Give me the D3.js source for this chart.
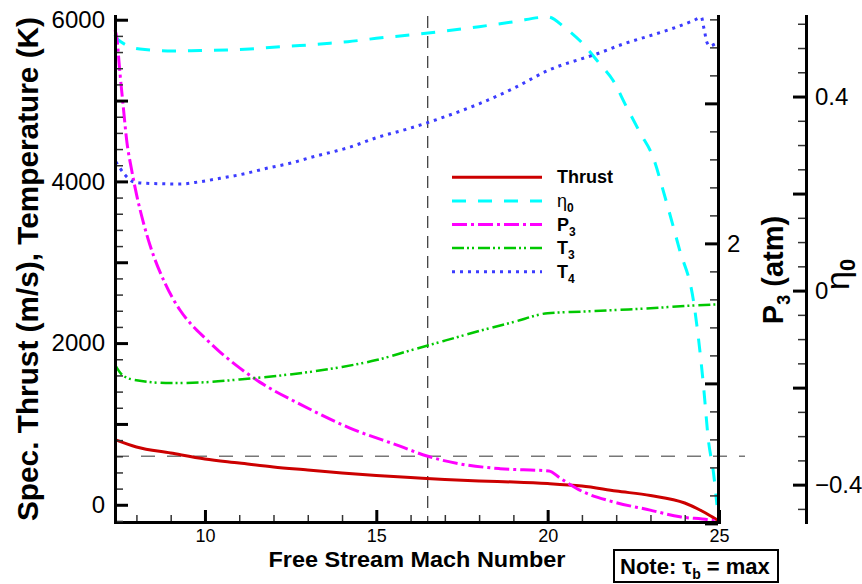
<!DOCTYPE html>
<html>
<head>
<meta charset="utf-8" />
<title>thrust, efficiency, P3 and temperatures vs mach</title>
<style>
html, body {
	margin:0;
	padding:0;
	background:#ffffff;
}
svg {
	display:block;
	font-family: 'Liberation Sans', Arial, Helvetica, sans-serif;
}
.axis path.domain { stroke:#000; stroke-width:3; stroke-linecap:square; }
.axis .tick line { stroke:#000; stroke-width:3; }
.axis text { fill:#000; font-family: 'Liberation Sans', Arial, Helvetica, sans-serif; }
.minor path.domain { display:none; }
.minor .tick line { stroke:#333; stroke-width:1.5; }
</style>
</head>
<body>

<script src="https://cdn.jsdelivr.net/npm/d3@7/dist/d3.min.js"></script>
<script>

//=======================================
// data
//=======================================

// thrust (m/s), left axis
const thrustMach = [7.376, 8, 9, 10, 11, 12, 13, 14, 15, 16, 17, 18, 19, 20, 21, 22, 23, 24, 24.5, 24.8, 25];
const thrustVal  = [806, 715, 640, 566, 517, 467, 430, 393, 362, 338, 313, 294, 282, 263, 231, 170, 115, 22, -77, -150, -200];

// eta0, far right axis
const etaMach = [7.376, 7.42, 8.10, 9.07, 9.85, 10.63, 11.31, 12.09, 12.77, 13.65, 14.17, 15, 16, 17, 18, 19, 20,
                 20.5, 21, 21.5, 21.9, 22.3, 22.7, 23.07, 23.42, 23.85, 24.25, 24.55, 24.69, 24.84, 24.94];
const etaVal  = [0.527, 0.520, 0.498, 0.494, 0.495, 0.496, 0.498, 0.502, 0.505, 0.510, 0.513, 0.520, 0.527, 0.535, 0.544, 0.554, 0.564,
                 0.542, 0.511, 0.469, 0.434, 0.379, 0.325, 0.276, 0.194, 0.084, -0.019, -0.198, -0.308, -0.376, -0.442];

// P3 (atm), inner right axis
const p3Mach = [7.374, 7.423, 7.52, 7.616, 7.715, 7.861, 8.007, 8.2, 8.395, 8.833, 9.27, 9.62, 10, 10.44, 11.02, 11.6,
                12.77, 14.23, 15.69, 16.48, 17.44, 18.61, 20.04, 20.36, 21.03, 21.91, 22.99, 23.86, 24.74, 25];
const p3Val  = [3.524, 3.476, 3.216, 2.976, 2.738, 2.524, 2.345, 2.152, 1.988, 1.716, 1.524, 1.416, 1.324, 1.224, 1.109, 1.009,
                0.852, 0.681, 0.552, 0.481, 0.425, 0.391, 0.374, 0.324, 0.226, 0.154, 0.095, 0.047, 0.024, 0.011];

// T3 (K), left axis
const t3Mach = [7.376, 7.6, 8, 9, 10, 11, 12, 13, 14, 15, 16, 16.5, 17, 18, 19, 20, 21, 22, 23, 24, 25];
const t3Val  = [1730, 1600, 1540, 1505, 1515, 1550, 1590, 1640, 1705, 1790, 1910, 1970, 2030, 2150, 2260, 2370, 2390, 2410, 2430, 2460, 2480];

// T4 (K), left axis
const t4Mach = [7.40, 7.67, 7.91, 8.30, 9.27, 9.85, 10.44, 11.12, 11.80, 12.48, 13.16, 13.74, 14.18, 15, 16, 17, 18, 19, 20,
                21.53, 22.2, 22.89, 23.57, 24.25, 24.49, 24.54, 24.59, 24.64, 24.74, 24.93, 25];
const t4Val  = [4244, 4079, 3996, 3976, 3968, 3996, 4038, 4092, 4162, 4224, 4305, 4367, 4417, 4540, 4660, 4800, 4960, 5150, 5370,
                5592, 5699, 5790, 5881, 5988, 6030, 5934, 5832, 5728, 5675, 5708, 5712];

// reference point marked by the dashed lines
const refMach = 16.5;
const refP3 = 0.48;

// ticks
const xMajor = [10, 15, 20, 25];
const xMinor = [8, 9, 11, 12, 13, 14, 16, 17, 18, 19, 21, 22, 23, 24];
const leftMajor = [0, 1000, 2000, 3000, 4000, 5000, 6000];
const leftLabels = [0, 2000, 4000, 6000];
const leftMinor = d3.range(-200, 6001, 200).filter(d => d % 1000 !== 0);
const p3Major = [0, 1, 2, 3];
const p3Labels = [2];
const p3Minor = d3.range(0.2, 3.61, 0.2).filter(d => Math.abs(d - Math.round(d)) > 0.01);
const etaMajor = [-0.4, -0.2, 0, 0.2, 0.4];
const etaLabels = [-0.4, 0, 0.4];
const etaMinor = d3.range(-0.45, 0.56, 0.05).filter(d => Math.abs(d * 5 - Math.round(d * 5)) > 0.01);

// legend
const legendKeys = ['thrust', 'eta', 'p3', 't3', 't4'];
const legendText = {
	thrust: ['Thrust', null, 'bold'],
	eta:    ['\u03b7', '0', 'normal'],
	p3:     ['P', '3', 'bold'],
	t3:     ['T', '3', 'bold'],
	t4:     ['T', '4', 'bold'],
};


//=======================================
// chart
//=======================================

const W = 862, H = 584;
const plotTop = 16, plotBottom = 522, plotLeft = 115, plotRight = 719, etaX = 806;

const x    = d3.scaleLinear().domain([7.375, 25]).range([plotLeft, plotRight]);
const yL   = d3.scaleLinear().domain([-213, 6046]).range([plotBottom, plotTop]);
const yP3  = d3.scaleLinear().domain([0.01, 3.624]).range([plotBottom, plotTop]);
const yEta = d3.scaleLinear().domain([-0.477, 0.566]).range([plotBottom, plotTop]);

const styles = {
	thrust: { stroke:'#cc0000', 'stroke-width':3,   dash:null },
	eta:    { stroke:'#00ffff', 'stroke-width':3,   dash:'14 12' },
	p3:     { stroke:'#ff00ff', 'stroke-width':3,   dash:'15 4 3 4' },
	t3:     { stroke:'#00c800', 'stroke-width':2.5, dash:'12 3 2 3 2 4' },
	t4:     { stroke:'#3c3cff', 'stroke-width':3,   dash:'3 5' },
};

const series = [
	{ key:'thrust', pts:d3.zip(thrustMach, thrustVal), y:yL },
	{ key:'eta',    pts:d3.zip(etaMach, etaVal),       y:yEta },
	{ key:'p3',     pts:d3.zip(p3Mach, p3Val),         y:yP3 },
	{ key:'t3',     pts:d3.zip(t3Mach, t3Val),         y:yL },
	{ key:'t4',     pts:d3.zip(t4Mach, t4Val),         y:yL },
];

const svg = d3.select('body').append('svg')
	.attr('width', W).attr('height', H)
	.attr('viewBox', [0, 0, W, H].join(' '));

svg.append('rect').attr('width', W).attr('height', H).attr('fill', '#fff');


//=====================
// reference dashed lines
//=====================
svg.append('line')
	.attr('x1', x(refMach)).attr('x2', x(refMach))
	.attr('y1', plotTop).attr('y2', plotBottom)
	.attr('stroke', '#333').attr('stroke-width', 1.2)
	.attr('stroke-dasharray', '12 8');

svg.append('line')
	.attr('x1', plotLeft).attr('x2', 745)
	.attr('y1', yP3(refP3)).attr('y2', yP3(refP3))
	.attr('stroke', '#777').attr('stroke-width', 1.5)
	.attr('stroke-dasharray', '14 12');


//=====================
// curves
//=====================
svg.append('g').attr('class', 'curves')
	.selectAll('path').data(series)
	.join('path')
		.attr('d', s => d3.line().curve(d3.curveMonotoneX).x(d => x(d[0])).y(d => s.y(d[1]))(s.pts))
		.attr('fill', 'none')
		.attr('stroke', s => styles[s.key].stroke)
		.attr('stroke-width', s => styles[s.key]['stroke-width'])
		.attr('stroke-dasharray', s => styles[s.key].dash)
		.attr('stroke-linejoin', 'round');


//=====================
// axes
//=====================
function minor(sel, axis, vals, size) {
	sel.append('g').attr('class', 'minor')
		.call(axis.tickValues(vals).tickSizeInner(size).tickSizeOuter(0).tickFormat(''));
}

// bottom
svg.append('g').attr('transform', 'translate(0,' + plotBottom + ')')
	.call(sel => {
		minor(sel, d3.axisBottom(x), xMinor, -7);
		sel.append('g').attr('class', 'axis')
			.call(d3.axisBottom(x).tickValues(xMajor).tickSizeInner(-12).tickSizeOuter(0).tickPadding(7).tickFormat(d => d))
			.call(g => g.selectAll('text').style('font-size', '18px'));
	});

// left
svg.append('g').attr('transform', 'translate(' + plotLeft + ',0)')
	.call(sel => {
		minor(sel, d3.axisLeft(yL), leftMinor, -8);
		sel.append('g').attr('class', 'axis')
			.call(d3.axisLeft(yL).tickValues(leftMajor).tickSizeInner(-13).tickSizeOuter(0).tickPadding(10)
				.tickFormat(d => leftLabels.includes(d) ? d : ''))
			.call(g => g.selectAll('text').style('font-size', '24px'));
	});

// P3
svg.append('g').attr('transform', 'translate(' + (plotRight - 1) + ',0)')
	.call(sel => {
		minor(sel, d3.axisRight(yP3), p3Minor, -8);
		sel.append('g').attr('class', 'axis')
			.call(d3.axisRight(yP3).tickValues(p3Major).tickSizeInner(-13).tickSizeOuter(0).tickPadding(9)
				.tickFormat(d => p3Labels.includes(d) ? d : ''))
			.call(g => g.selectAll('text').style('font-size', '24px'));
	});

// eta0
svg.append('g').attr('transform', 'translate(' + etaX + ',0)')
	.call(sel => {
		minor(sel, d3.axisRight(yEta), etaMinor, -8);
		sel.append('g').attr('class', 'axis')
			.call(d3.axisRight(yEta).tickValues(etaMajor).tickSizeInner(-13).tickSizeOuter(0).tickPadding(9)
				.tickFormat(d => etaLabels.includes(d) ? (d === 0 ? '0' : d3.format('.1f')(d)) : ''))
			.call(g => g.selectAll('text').style('font-size', '24px'));
	});


//=====================
// titles
//=====================
svg.append('text')
	.attr('transform', 'translate(38,269) rotate(-90)')
	.attr('text-anchor', 'middle')
	.attr('font-size', 29).attr('font-weight', 'bold')
	.attr('textLength', 504).attr('lengthAdjust', 'spacingAndGlyphs')
	.text('Spec. Thrust (m/s), Temperature (K)');

svg.append('text')
	.attr('x', 417).attr('y', 567)
	.attr('text-anchor', 'middle')
	.attr('font-size', 22).attr('font-weight', 'bold')
	.attr('textLength', 297).attr('lengthAdjust', 'spacingAndGlyphs')
	.text('Free Stream Mach Number');

svg.append('text')
	.attr('transform', 'translate(783,270) rotate(-90)')
	.attr('text-anchor', 'middle')
	.attr('font-size', 29).attr('font-weight', 'bold')
	.call(t => {
		t.append('tspan').text('P');
		t.append('tspan').attr('font-size', 18).attr('dy', 7).text('3');
		t.append('tspan').attr('dy', -7).text(' (atm)');
	});

svg.append('text')
	.attr('transform', 'translate(849,290) rotate(-90)')
	.attr('font-size', 34)
	.call(t => {
		t.append('tspan').text('\u03b7');
		t.append('tspan').attr('font-size', 22).attr('font-weight', 'bold').attr('dy', 6).text('0');
	});


//=====================
// legend
//=====================
const legendY = d3.scalePoint().domain(legendKeys).range([177.3, 271.7]);

svg.append('g').attr('class', 'legend')
	.selectAll('g').data(legendKeys)
	.join('g')
		.attr('transform', d => 'translate(0,' + legendY(d) + ')')
		.call(sel => {
			sel.append('line')
				.attr('x1', 452).attr('x2', 542)
				.attr('stroke', d => styles[d].stroke)
				.attr('stroke-width', d => styles[d]['stroke-width'])
				.attr('stroke-dasharray', d => styles[d].dash);

			sel.append('text')
				.attr('x', 557).attr('y', 6)
				.attr('font-size', 18)
				.attr('font-weight', d => legendText[d][2])
				.each(function(d) {
					let t = d3.select(this);
					t.append('tspan').text(legendText[d][0]);
					if (legendText[d][1]) {
						t.append('tspan').attr('font-size', 12).attr('font-weight', 'bold').attr('dy', 5).text(legendText[d][1]);
					}
				});
		});


//=====================
// note box
//=====================
svg.append('g').attr('class', 'note')
	.call(sel => {
		sel.append('rect')
			.attr('x', 614).attr('y', 550).attr('width', 164).attr('height', 32)
			.attr('fill', '#fff').attr('stroke', '#000').attr('stroke-width', 2);
		sel.append('text')
			.attr('x', 620).attr('y', 574)
			.attr('font-size', 22).attr('font-weight', 'bold')
			.call(t => {
				t.append('tspan').text('Note: \u03c4');
				t.append('tspan').attr('font-size', 14).attr('dy', 5).text('b');
				t.append('tspan').attr('dy', -5).text(' = max');
			});
	});

</script>
</body>
</html>
